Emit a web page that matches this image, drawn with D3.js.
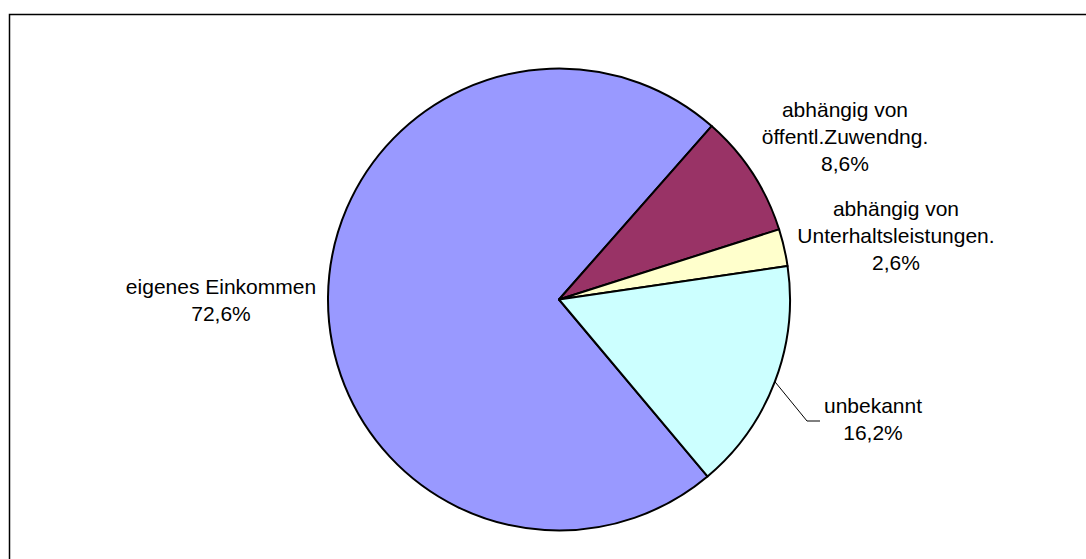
<!DOCTYPE html>
<html>
<head>
<meta charset="utf-8">
<script src="https://cdn.jsdelivr.net/npm/d3@7"></script>
<style>
  body { margin: 0; background: #fff; }
  svg { display: block; }
  text { font-family: "Liberation Sans", Arial, sans-serif; font-size: 21px; fill: #000; }
</style>
</head>
<body>
<script>
var categories = ["eigenes Einkommen", "abhängig von öffentl.Zuwendng.", "abhängig von Unterhaltsleistungen.", "unbekannt"];
var values = [72.6, 8.6, 2.6, 16.2];
var labelLines = [
  ["eigenes Einkommen", "72,6%"],
  ["abhängig von", "öffentl.Zuwendng.", "8,6%"],
  ["abhängig von", "Unterhaltsleistungen.", "2,6%"],
  ["unbekannt", "16,2%"]
];
var colors = ["#9999ff", "#993366", "#ffffcc", "#ccffff"];

var width = 1086, height = 559;
var cx = 559, cy = 299.5, r = 231;

var svg = d3.select("body").append("svg").attr("width", width).attr("height", height);

// chart frame (runs off the right and bottom edge)
svg.append("rect")
  .attr("x", 9.5).attr("y", 14.5)
  .attr("width", 1100).attr("height", 600)
  .attr("fill", "none").attr("stroke", "#000").attr("stroke-width", 1.5);

var start = 140 * Math.PI / 180;
var pie = d3.pie().sort(null).startAngle(start).endAngle(start + 2 * Math.PI);
var arc = d3.arc().innerRadius(0).outerRadius(r);

var data = values.map(function (v, i) { return { name: categories[i], value: v, idx: i }; });
var arcs = pie.value(function (d) { return d.value; })(data);

var g = svg.append("g").attr("transform", "translate(" + cx + "," + cy + ")");

g.selectAll("path")
  .data(arcs)
  .enter()
  .append("path")
  .attr("d", arc)
  .attr("fill", function (d) { return colors[d.data.idx]; })
  .attr("stroke", "#000")
  .attr("stroke-width", 2)
  .attr("stroke-linejoin", "round");

// label anchors (centre x, first baseline)
var labelPos = [[221, 294], [845, 117], [896, 216], [873, 413]];
var lineGap = 27;

svg.selectAll("text.lbl")
  .data(labelLines)
  .enter()
  .append("text")
  .attr("class", "lbl")
  .attr("text-anchor", "middle")
  .each(function (lines, i) {
    var t = d3.select(this);
    lines.forEach(function (s, j) {
      t.append("tspan")
        .attr("x", labelPos[i][0])
        .attr("y", labelPos[i][1] + j * lineGap)
        .text(s);
    });
  });

// leader line for "unbekannt"
var unb = arcs[3];
var mid = (unb.startAngle + unb.endAngle) / 2;
var p0 = [cx + r * Math.sin(mid), cy - r * Math.cos(mid)];
svg.append("polyline")
  .attr("points", [p0, [807, 421], [820, 421]].map(function (p) { return p.join(","); }).join(" "))
  .attr("fill", "none")
  .attr("stroke", "#000")
  .attr("stroke-width", 1);
</script>
</body>
</html>
